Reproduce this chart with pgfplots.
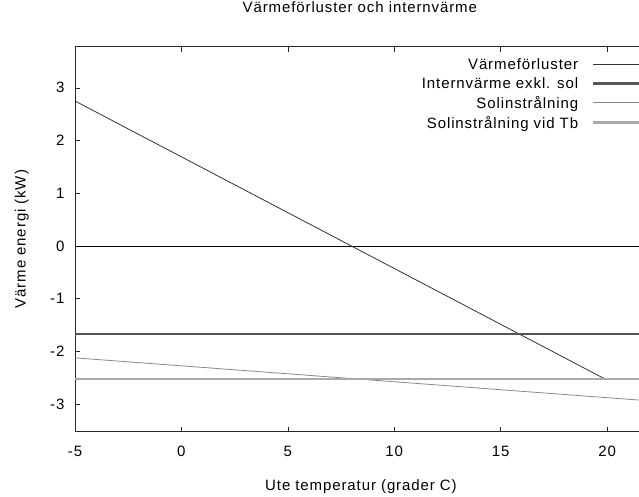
\documentclass[border=0pt]{standalone}
\usepackage{fontspec}
\setmainfont{Liberation Sans}[LetterSpace=6]
\usepackage{pgfplots}
\pgfplotsset{compat=1.18}

\definecolor{loss}{HTML}{333333}
\definecolor{intern}{HTML}{555555}
\definecolor{sol}{HTML}{888888}
\definecolor{soltb}{HTML}{AAAAAA}

\begin{document}
\begin{tikzpicture}
\begin{axis}[
  at={(75bp,65.3bp)}, anchor=south west,
  scale only axis, width=564bp, height=385bp,
  xmin=-5, xmax=21.5, ymin=-3.52, ymax=3.78,
  xtick={-5,0,5,10,15,20}, ytick={-3,-2,-1,0,1,2,3},
  axis x line*=box, axis y line*=left,
  tick align=inside, major tick length=5bp,
  axis line style={line width=0.8bp, black!85},
  tick style={line width=0.6bp, black!85},
  font=\fontsize{15bp}{18bp}\selectfont,
  /pgf/number format/assume math mode=true,
  xticklabel style={yshift=-11bp},
  yticklabel style={xshift=-7bp},
  title={Värmeförluster och internvärme},
  title style={at={(axis description cs:0.505,1.072)}, anchor=base},
  xlabel={Ute temperatur (grader C)},
  xlabel style={at={(axis description cs:0.507,-0.154)}, anchor=base},
  ylabel={Värme energi (kW)},
  ylabel style={at={(axis description cs:-0.0874,0.5)}, anchor=base, rotate=0},
  legend plot pos=right,
  legend cell align=right,
  legend image code/.code={\path (0bp,0bp); \draw[#1] (12bp,0bp) -- (60bp,0bp);},
  legend style={draw=none, fill=none, inner sep=0pt,
    at={(axis description cs:1.007,0.975)}, anchor=north east,
    row sep=2.4bp, font=\fontsize{15bp}{18bp}\selectfont},
]
% zero axis
\addplot[black, line width=0.8bp, forget plot] coordinates {(-5,0) (21.5,0)};

\addplot[loss, line width=0.8bp] coordinates {(-5,2.75) (19.9,-2.52)};
\addlegendentry{Värmeförluster}

\addplot[intern, line width=2.6bp] coordinates {(-5,-1.67) (21.5,-1.67)};
\addlegendentry{Internvärme exkl. sol}

\addplot[sol, line width=0.8bp] coordinates {(-5,-2.12) (21.5,-2.92)};
\addlegendentry{Solinstrålning}

\addplot[soltb, line width=2.6bp] coordinates {(-5,-2.52) (21.5,-2.52)};
\addlegendentry{Solinstrålning vid Tb}
\end{axis}
\pgfresetboundingbox
\path (0,0) rectangle (639bp,497bp);
\end{tikzpicture}
\end{document}
